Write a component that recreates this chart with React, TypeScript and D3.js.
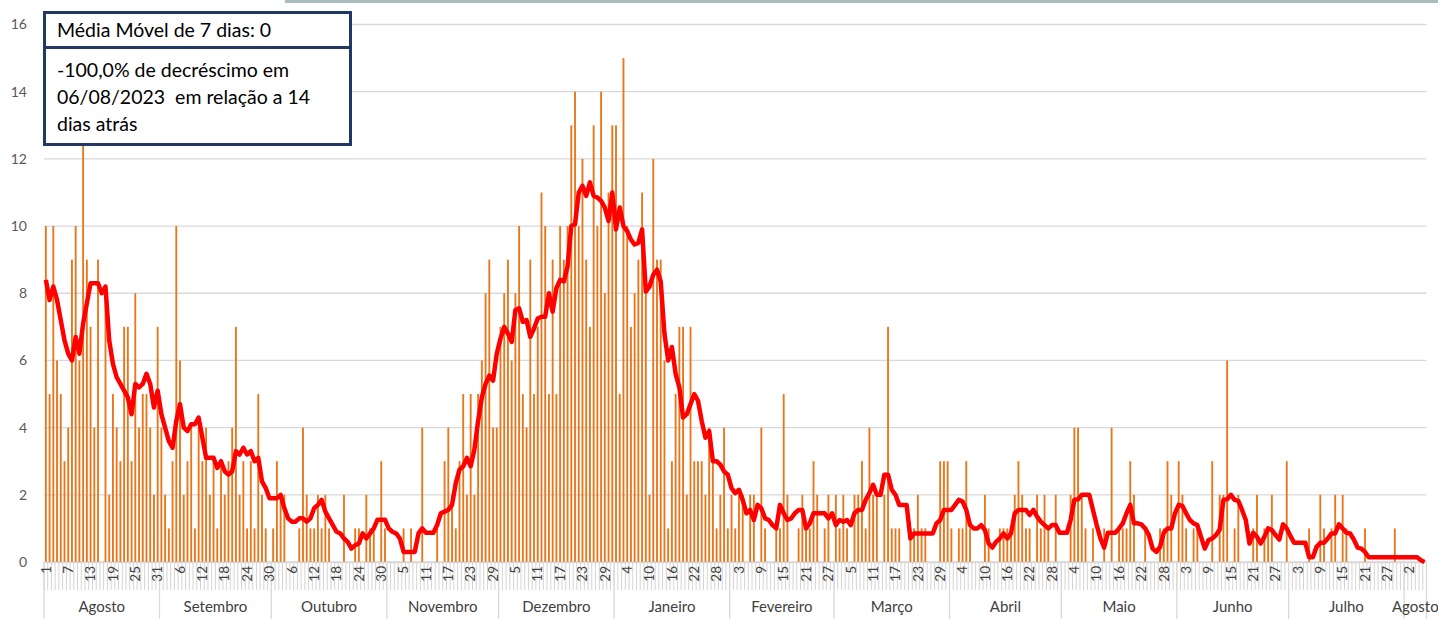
import React, { useEffect, useRef } from 'react'
import * as d3 from 'd3'

// months shown on the axis (Aug 2022 .. Aug 2023)
const monthNames = ['Agosto', 'Setembro', 'Outubro', 'Novembro', 'Dezembro', 'Janeiro', 'Fevereiro',
  'Março', 'Abril', 'Maio', 'Junho', 'Julho', 'Agosto']
const monthLengths = [31, 30, 31, 30, 31, 31, 28, 31, 30, 31, 30, 31, 6]

// daily cases, one list per month
const casesAug = [10, 5, 10, 6, 5, 3, 4, 9, 10, 6, 13, 9, 7, 4, 9, 0, 8, 2, 5, 4, 3, 7, 7, 3, 8, 4, 5, 5, 4, 2, 7]
const casesSep = [4, 2, 1, 3, 10, 6, 2, 3, 4, 1, 4, 3, 4, 2, 3, 1, 3, 2, 3, 4, 7, 2, 3, 1, 3, 1, 5, 2, 1, 0]
const casesOct = [1, 3, 2, 2, 0, 0, 0, 1, 4, 2, 1, 1, 2, 1, 2, 1, 0, 0, 0, 2, 0, 0, 1, 1, 0, 2, 1, 1, 0, 3, 1]
const casesNov = [0, 0, 0, 0, 1, 0, 1, 0, 0, 4, 0, 0, 0, 1, 0, 3, 4, 2, 1, 3, 5, 2, 5, 2, 5, 6, 8, 9, 4, 4]
const casesDec = [7, 8, 9, 6, 8, 10, 5, 4, 9, 5, 7, 11, 10, 5, 9, 5, 10, 9, 10, 13, 14, 10, 12, 9, 7, 13, 10, 14, 8, 11, 13]
const casesJan = [13, 5, 15, 10, 7, 8, 9, 11, 8, 2, 12, 9, 9, 6, 1, 3, 5, 7, 7, 2, 7, 3, 3, 3, 2, 4, 3, 1, 2, 4, 1]
const casesFeb = [2, 1, 2, 2, 0, 2, 2, 0, 4, 1, 0, 0, 1, 1, 5, 2, 0, 0, 1, 2, 1, 1, 3, 2, 0, 1, 2, 0]
const casesMar = [2, 1, 2, 1, 0, 2, 2, 3, 1, 4, 2, 2, 0, 2, 7, 1, 1, 1, 0, 0, 1, 1, 2, 1, 1, 0, 0, 0, 3, 3, 3]
const casesApr = [1, 0, 1, 1, 3, 1, 0, 0, 0, 2, 1, 0, 0, 1, 1, 1, 1, 2, 3, 2, 1, 1, 0, 2, 1, 2, 1, 0, 2, 0]
const casesMay = [0, 0, 2, 4, 4, 2, 1, 0, 1, 0, 0, 1, 0, 4, 0, 1, 1, 1, 3, 2, 0, 0, 1, 0, 0, 0, 1, 1, 3, 2, 0]
const casesJun = [3, 2, 1, 0, 1, 1, 0, 0, 0, 3, 0, 2, 2, 6, 0, 1, 2, 0, 0, 0, 1, 2, 0, 1, 1, 2, 0, 0, 0, 3]
const casesJul = [0, 0, 0, 0, 0, 1, 0, 0, 2, 1, 0, 1, 2, 0, 2, 1, 0, 0, 0, 0, 1, 0, 0, 0, 0, 0, 0, 0, 1, 0, 0]
const casesAug23 = [0, 0, 0, 0, 0, 0]

// 7-day moving average as plotted
const avgAug = [8.4, 7.8, 8.2, 7.8, 7.2, 6.6, 6.2, 6.0, 6.7, 6.2, 7.1, 7.7, 8.3, 8.3, 8.3, 8.0, 8.2, 6.6, 5.9, 5.5,
  5.3, 5.1, 4.9, 4.4, 5.3, 5.2, 5.3, 5.6, 5.3, 4.6, 5.1]
const avgSep = [4.4, 4.0, 3.6, 3.4, 4.2, 4.7, 4.0, 3.9, 4.1, 4.1, 4.3, 3.7, 3.1, 3.1, 3.1, 2.8, 3.0, 2.7, 2.6, 2.7,
  3.3, 3.2, 3.4, 3.2, 3.3, 3.0, 3.1, 2.4, 2.2, 1.9]
const avgOct = [1.9, 1.9, 2.0, 1.6, 1.3, 1.2, 1.2, 1.3, 1.3, 1.2, 1.3, 1.6, 1.7, 1.85, 1.5, 1.3, 1.1, 0.9, 0.85, 0.7,
  0.6, 0.4, 0.5, 0.55, 0.85, 0.7, 0.85, 1.0, 1.26, 1.26, 1.26]
const avgNov = [1.0, 0.9, 0.85, 0.7, 0.3, 0.3, 0.3, 0.3, 0.85, 1.0, 0.87, 0.87, 0.87, 1.1, 1.45, 1.5, 1.55, 1.7, 2.35, 2.75,
  2.85, 3.1, 2.85, 3.35, 4.2, 4.9, 5.3, 5.55, 5.4, 6.2]
const avgDec = [6.65, 7.0, 6.8, 6.55, 7.5, 7.55, 7.15, 7.2, 6.7, 6.95, 7.25, 7.3, 7.3, 8.0, 7.45, 8.15, 8.4, 8.35, 8.8, 10.0,
  10.05, 11.0, 11.2, 10.9, 11.3, 10.9, 10.85, 10.75, 10.55, 10.15, 11.0]
const avgJan = [9.9, 10.55, 10.0, 9.85, 9.6, 9.45, 9.5, 9.9, 8.05, 8.2, 8.55, 8.7, 8.35, 6.8, 6.0, 6.4, 5.6, 5.2, 4.3, 4.4,
  4.7, 5.0, 4.8, 4.2, 3.7, 3.9, 3.0, 3.0, 2.9, 2.7, 2.6]
const avgFeb = [2.2, 2.05, 2.15, 1.85, 1.45, 1.55, 1.25, 1.7, 1.6, 1.3, 1.25, 1.1, 1.0, 1.7, 1.45, 1.25, 1.3, 1.45, 1.55, 1.55,
  1.0, 1.15, 1.45, 1.45, 1.45, 1.45, 1.3, 1.45]
const avgMar = [1.1, 1.25, 1.2, 1.25, 1.1, 1.45, 1.55, 1.55, 1.85, 2.05, 2.3, 2.0, 2.0, 2.6, 2.6, 2.15, 2.0, 1.7, 1.7, 1.7,
  0.7, 0.85, 0.85, 0.85, 0.85, 0.85, 0.85, 1.15, 1.25, 1.55, 1.55]
const avgApr = [1.55, 1.7, 1.85, 1.8, 1.55, 1.1, 1.0, 1.0, 1.1, 0.95, 0.55, 0.43, 0.6, 0.7, 0.85, 0.7, 0.85, 1.45, 1.55, 1.55,
  1.55, 1.4, 1.55, 1.35, 1.2, 1.1, 1.0, 1.1, 1.1, 0.87]
const avgMay = [0.87, 0.87, 1.25, 1.85, 1.87, 2.0, 2.0, 2.0, 1.55, 1.1, 0.7, 0.43, 0.87, 0.87, 0.87, 1.0, 1.15, 1.45, 1.7, 1.15,
  1.15, 1.12, 1.0, 0.8, 0.4, 0.3, 0.45, 0.87, 1.0, 1.0, 1.45]
const avgJun = [1.7, 1.67, 1.45, 1.25, 1.15, 1.1, 0.75, 0.4, 0.65, 0.7, 0.8, 0.97, 1.85, 1.87, 2.0, 1.85, 1.82, 1.55, 1.25, 0.55,
  0.87, 0.75, 0.55, 0.75, 1.0, 0.95, 0.8, 0.67, 1.12, 1.0]
const avgJul = [0.77, 0.57, 0.57, 0.57, 0.57, 0.14, 0.14, 0.45, 0.57, 0.57, 0.7, 0.85, 0.85, 1.12, 1.0, 0.87, 0.85, 0.67, 0.43, 0.4,
  0.3, 0.14, 0.14, 0.14, 0.14, 0.14, 0.14, 0.14, 0.14, 0.14, 0.14]
const avgAug23 = [0.14, 0.14, 0.14, 0.14, 0.05, 0]

const yTicks = [0, 2, 4, 6, 8, 10, 12, 14, 16]
const boxTitle = 'Média Móvel de 7 dias: 0'
const boxLines = ['-100,0% de decréscimo em', '06/08/2023  em relação a 14', 'dias atrás']

const dailyCases = [...casesAug, ...casesSep, ...casesOct, ...casesNov, ...casesDec, ...casesJan,
  ...casesFeb, ...casesMar, ...casesApr, ...casesMay, ...casesJun, ...casesJul, ...casesAug23]
const movingAvg = [...avgAug, ...avgSep, ...avgOct, ...avgNov, ...avgDec, ...avgJan,
  ...avgFeb, ...avgMar, ...avgApr, ...avgMay, ...avgJun, ...avgJul, ...avgAug23]

const FONT = 'Lato, "Open Sans", sans-serif'

export default function App() {
  const ref = useRef<SVGSVGElement>(null)

  useEffect(() => {
    const width = 1438, height = 619
    const left = 44, right = 1426.5, top = 24.5, bottom = 562
    const svg = d3.select(ref.current)
    svg.selectAll('*').remove()

    // day of month for each category
    const dayOfMonth: number[] = []
    const monthStart: number[] = []
    monthLengths.forEach(len => {
      monthStart.push(dayOfMonth.length)
      for (let d = 1; d <= len; d++) dayOfMonth.push(d)
    })
    const n = dayOfMonth.length

    const x = d3.scaleBand<number>()
      .domain(d3.range(n))
      .range([left, right])
      .paddingInner(0.5)
      .paddingOuter(0.25)
    const step = x.step()
    const edge = (i: number) => left + i * step
    const y = d3.scaleLinear().domain([0, 16]).range([bottom, top])

    // thin strip at the very top
    svg.append('rect').attr('x', 285).attr('y', 0).attr('width', width - 285).attr('height', 3)
      .attr('fill', '#a7bdbb')

    // gridlines
    svg.append('g').selectAll('line').data(yTicks).enter().append('line')
      .attr('x1', left).attr('x2', right)
      .attr('y1', d => y(d)).attr('y2', d => y(d))
      .style('stroke', '#d9d9d9').style('stroke-width', 1.3)

    // y labels
    svg.append('g').selectAll('text').data(yTicks).enter().append('text')
      .text(d => d)
      .attr('x', 27).attr('y', d => y(d)).attr('dy', '0.35em')
      .attr('text-anchor', 'end')
      .style('font-family', FONT).style('font-size', '14px').style('fill', '#595959')

    // bars
    svg.append('g').selectAll('rect').data(dailyCases).enter().append('rect')
      .attr('x', (_, i) => x(i)!)
      .attr('width', x.bandwidth())
      .attr('y', d => y(d))
      .attr('height', d => bottom - y(d))
      .attr('fill', '#e9761a')

    // axis line + day ticks
    const axis = svg.append('g')
    axis.append('line').attr('x1', left).attr('x2', right).attr('y1', bottom + 0.5).attr('y2', bottom + 0.5)
      .style('stroke', '#d9d9d9').style('stroke-width', 1.5)
    axis.selectAll('line.tick').data(d3.range(n + 1)).enter().append('line')
      .attr('class', 'tick')
      .attr('x1', i => edge(i)).attr('x2', i => edge(i))
      .attr('y1', bottom).attr('y2', 590)
      .style('stroke', '#d4d4d4').style('stroke-width', 1)
    const monthEdges = [...monthStart, n]
    axis.selectAll('line.month').data(monthEdges).enter().append('line')
      .attr('class', 'month')
      .attr('x1', i => edge(i)).attr('x2', i => edge(i))
      .attr('y1', bottom).attr('y2', height)
      .style('stroke', '#d9d9d9').style('stroke-width', 1.3)

    // day labels every 6 days
    const labelIdx = d3.range(0, n, 6)
    axis.selectAll('text.day').data(labelIdx).enter().append('text')
      .attr('class', 'day')
      .text(i => dayOfMonth[i])
      .attr('transform', i => `translate(${x(i)! + x.bandwidth() / 2},566) rotate(-90)`)
      .attr('text-anchor', 'end').attr('dy', '0.35em')
      .style('font-family', FONT).style('font-size', '13.5px').style('fill', '#404040')

    // month labels
    axis.selectAll('text.month').data(monthNames).enter().append('text')
      .attr('class', 'month')
      .text(d => d)
      .attr('x', (_, m) => (edge(monthStart[m]) + edge(monthEdges[m + 1])) / 2)
      .attr('y', 612)
      .attr('text-anchor', 'middle')
      .style('font-family', FONT).style('font-size', '15px').style('fill', '#404040')

    // moving average line
    const line = d3.line<number>()
      .x((_, i) => x(i)! + x.bandwidth() / 2)
      .y(d => y(d))
    svg.append('path').datum(movingAvg)
      .attr('d', line)
      .style('fill', 'none').style('stroke', '#ff0000').style('stroke-width', 4.5)
      .style('stroke-linejoin', 'round')

    // text box
    const box = svg.append('g')
    box.append('rect').attr('x', 44.5).attr('y', 12.5).attr('width', 306).attr('height', 132)
      .style('fill', '#fff').style('stroke', '#1f3864').style('stroke-width', 3)
    box.append('line').attr('x1', 44.5).attr('x2', 350.5).attr('y1', 47.5).attr('y2', 47.5)
      .style('stroke', '#1f3864').style('stroke-width', 3)
    box.append('text').text(boxTitle).attr('x', 57).attr('y', 37)
      .style('font-family', FONT).style('font-size', '19.5px').style('fill', '#000')
    box.selectAll('text.l').data(boxLines).enter().append('text')
      .attr('class', 'l')
      .text(d => d)
      .attr('x', 57).attr('y', (_, k) => 77 + k * 27)
      .style('font-family', FONT).style('font-size', '19.5px').style('fill', '#000')
      .style('white-space', 'pre')
  }, [])

  return (
    <svg ref={ref} width={1438} height={619}
      style={{ position: 'absolute', left: 0, top: 0, background: '#fff' }} />
  )
}
